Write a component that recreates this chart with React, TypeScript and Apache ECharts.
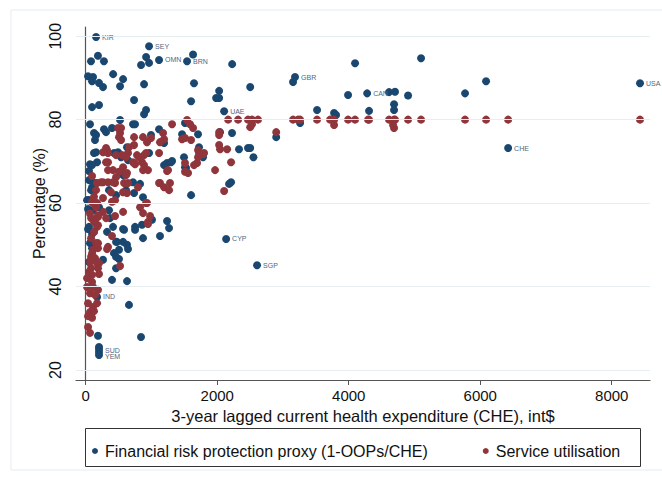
import React, { useEffect, useRef } from "react";
import * as echarts from "echarts";

// ---- data ----
const xTicks = [0, 2000, 4000, 6000, 8000];
const yTicks = [20, 40, 60, 80, 100];

// Financial risk protection proxy (1-OOPs/CHE): [CHE int$, %]
const frpPoints: number[][] = [
  [80, 94.0], [186, 95.3], [277, 94.0], [35, 90.4], [111, 90.2], [96, 89.2], [202, 88.8], [263, 87.8],
  [417, 90.9], [568, 89.7], [522, 88.0], [735, 84.7], [96, 83.0], [202, 83.5], [65, 78.9],
  [842, 93.1], [918, 95.0], [963, 93.6], [887, 88.5], [918, 82.3], [887, 81.3],
  [1632, 95.6], [1647, 88.7], [1602, 84.4], [2227, 93.3], [2029, 86.9], [1983, 85.2], [2029, 85.2], [2501, 87.8],
  [3153, 89.0], [3518, 82.3], [2897, 75.8], [3260, 79.2],
  [4096, 93.5], [5100, 94.7], [6089, 89.2], [3990, 85.9], [4613, 86.6], [4704, 86.7], [4902, 85.8], [5769, 86.3],
  [3777, 81.6], [3807, 81.1], [4309, 82.1], [4689, 83.7], [4689, 82.3],
  [2501, 73.2], [2551, 71.0],
  [126, 76.8], [157, 76.3], [278, 77.7], [309, 77.0], [400, 78.0], [522, 79.9], [719, 78.9], [750, 78.9],
  [993, 76.3], [1115, 77.7], [1191, 74.4], [1465, 76.5], [1510, 79.2], [1708, 76.5], [1723, 73.4], [1784, 71.0],
  [2043, 77.0], [2225, 76.8], [2331, 72.9], [2468, 73.2],
  [141, 75.1], [126, 72.0], [65, 69.3], [50, 67.7], [172, 69.8], [430, 72.0], [537, 71.0], [628, 73.4],
  [826, 64.6], [963, 72.0], [1237, 69.6], [1313, 70.1], [1495, 71.0], [1526, 68.4], [1602, 61.9], [2180, 64.6],
  [2210, 65.0], [50, 65.5], [96, 63.8],
  [20, 60.7], [35, 58.6], [111, 58.3], [50, 54.3], [35, 53.8], [96, 52.6], [65, 50.4], [96, 49.2], [50, 45.9],
  [263, 46.4], [324, 53.1], [354, 58.3], [369, 56.4], [476, 50.7], [430, 48.0], [506, 46.6], [461, 44.4],
  [400, 41.6], [628, 41.3], [568, 53.8], [568, 50.7], [628, 50.0], [643, 49.0], [750, 54.3], [750, 53.6],
  [856, 54.8], [871, 51.6], [1130, 52.1], [1237, 55.7], [1267, 54.0], [658, 35.6], [841, 27.9], [187, 28.2],
  [202, 25.5], [202, 25.0], [1008, 56.0],
  [157, 72.2], [96, 69.1], [81, 65.5], [157, 64.8], [81, 63.1], [50, 60.7], [202, 59.0], [415, 54.3],
  [583, 53.6], [126, 53.1], [81, 50.7], [461, 50.7], [506, 48.8], [461, 47.1], [461, 61.9], [613, 63.1],
  [735, 62.4], [871, 61.4], [643, 70.3], [491, 72.2], [568, 66.7], [719, 65.0], [354, 63.1], [1191, 69.1],
  [1297, 69.8], [1510, 68.6],
];

// labelled countries (financial risk protection proxy)
const frpLabelCodes = ["KIR", "SEY", "OMN", "BRN", "UAE", "GBR", "CAN", "USA", "CHE", "CYP", "SGP", "IND", "SUD", "YEM"];
const frpLabelChe = [157, 963, 1115, 1541, 2105, 3183, 4280, 8430, 6424, 2135, 2606, 172, 202, 202];
const frpLabelPct = [99.8, 97.6, 94.3, 94.0, 82.0, 90.2, 86.3, 88.7, 73.2, 51.4, 45.1, 37.5, 24.3, 23.6];

// Service utilisation: [CHE int$, %]
const suPoints: number[][] = [
  [2166, 80], [2317, 80], [2468, 80], [2529, 80], [2620, 80], [3153, 80], [3229, 80], [3260, 80], [3518, 80],
  [3716, 80], [3777, 80], [3990, 80], [4096, 80], [4294, 80], [4309, 80], [4613, 80], [4689, 80], [4704, 80],
  [4902, 80], [5100, 80], [5769, 80], [6089, 80], [6424, 80], [8430, 80],
  [2501, 78.2], [3777, 78.7], [4689, 78.0], [4674, 78.7], [2897, 77.0], [2529, 78.9], [2029, 77.0], [2029, 76.3],
  [2043, 72.9], [2150, 72.9], [2210, 69.8], [1967, 67.9], [2105, 62.9], [2029, 73.9],
  [1313, 78.9], [1541, 79.9], [1587, 78.9], [1632, 78.0], [537, 78.0], [522, 76.8], [537, 75.1], [735, 75.8],
  [871, 75.8], [932, 74.6], [993, 75.6], [1176, 76.8], [1191, 75.3], [1130, 74.6], [1465, 75.3], [1510, 75.6],
  [1602, 75.1], [1708, 72.7], [1784, 71.7], [1708, 71.0], [324, 72.7], [339, 72.0], [309, 69.8], [415, 67.9],
  [552, 71.5], [658, 73.4], [643, 72.0], [780, 71.5], [887, 71.5], [856, 69.8], [719, 69.8], [871, 67.9],
  [947, 67.9], [568, 68.6], [628, 67.2], [461, 66.2], [750, 69.3], [1115, 72.0], [1237, 67.7], [1282, 64.8],
  [1130, 64.8], [1510, 69.6], [1510, 67.5], [1693, 69.6], [1800, 72.0], [263, 65.0], [172, 64.8], [339, 65.0],
  [446, 64.8], [583, 64.8], [628, 62.4],
  [491, 78.0], [506, 75.8], [309, 73.2], [735, 73.9],
  [263, 72.2], [339, 69.8], [461, 71.5], [613, 71.0], [811, 71.0], [918, 72.0], [735, 69.6], [887, 69.1],
  [339, 67.9], [506, 67.5], [613, 66.7], [415, 65.0], [643, 64.8], [233, 65.0], [157, 63.1], [384, 62.6],
  [568, 62.6], [795, 63.8], [263, 61.2], [111, 60.0], [157, 59.0], [263, 57.9], [187, 56.7], [126, 55.5],
  [187, 54.7], [309, 56.4], [918, 60.0], [947, 55.5], [871, 57.6], [81, 51.6], [157, 50.4], [111, 48.8],
  [187, 49.2], [81, 47.1], [202, 45.6], [339, 49.5], [81, 44.4],
  [96, 60.3], [172, 60.0], [400, 60.3], [446, 60.7], [826, 59.0], [932, 60.0], [978, 56.9], [947, 55.0],
  [446, 56.9], [568, 57.9], [81, 56.4], [141, 55.9], [187, 57.1], [172, 54.3], [126, 53.1], [187, 50.4],
  [324, 49.0], [400, 52.1], [522, 44.9], [96, 48.0], [141, 46.8], [65, 45.9], [172, 45.6], [187, 44.4],
  [50, 43.5], [96, 42.8], [202, 43.0], [20, 42.0], [96, 41.1], [20, 39.9], [111, 39.9], [187, 39.2],
  [65, 38.4], [141, 38.0], [35, 36.0], [111, 35.1], [172, 36.0], [65, 33.9], [126, 34.1], [35, 32.9],
  [96, 32.5], [35, 30.3], [65, 28.9],
  [1723, 72.0], [1556, 67.2], [1647, 69.1], [1252, 67.9], [1115, 64.8], [1191, 63.8], [1267, 63.1],
  [96, 66.5], [126, 61.5], [65, 57.5],
];

const FRP_NAME = "Financial risk protection proxy (1-OOPs/CHE)";
const SU_NAME = "Service utilisation";
const NAVY = "#1a476f";
const MAROON = "#90353b";
const FONT = "'Liberation Sans', Arial, Helvetica, sans-serif";

export default function App() {
  const ref = useRef<HTMLDivElement>(null);

  useEffect(() => {
    document.body.style.margin = "0";
    if (!ref.current) return;
    const chart = echarts.init(ref.current, null, { renderer: "svg" });

    const frpData: any[] = frpPoints.map((p) => ({ value: p }));
    frpLabelCodes.forEach((code, i) => {
      const dy = code === "SUD" ? -2 : code === "YEM" ? 2 : 0;
      frpData.push({
        value: [frpLabelChe[i], frpLabelPct[i]],
        label: {
          show: true,
          formatter: code,
          position: "right",
          distance: 2,
          offset: [0, dy],
          fontSize: 7,
          color: "#4d6787",
          fontFamily: FONT,
        },
      });
    });

    chart.setOption({
      animation: false,
      backgroundColor: "#ffffff",
      textStyle: { fontFamily: FONT },
      grid: { left: 76, right: 12, top: 27, bottom: 101, containLabel: false },
      xAxis: {
        type: "value",
        min: -148,
        max: 8582,
        name: "3-year lagged current health expenditure (CHE), int$",
        nameLocation: "middle",
        nameGap: 27,
        nameMoveOverlap: false,
        nameTextStyle: { fontSize: 16.5, color: "#111", fontFamily: FONT },
        axisLine: { show: true, lineStyle: { color: "#555", width: 1.2 } },
        axisTick: { show: true, length: 5, customValues: xTicks, lineStyle: { color: "#555" } },
        axisLabel: {
          customValues: xTicks,
          formatter: (v: number) => String(v),
          fontSize: 15,
          color: "#111",
          margin: 8,
          fontFamily: FONT,
        },
        splitLine: { show: false },
      },
      yAxis: {
        type: "value",
        min: 17.6,
        max: 102.2,
        name: "Percentage (%)",
        nameLocation: "middle",
        nameGap: 29,
        nameMoveOverlap: false,
        nameTextStyle: { fontSize: 16, color: "#111", fontFamily: FONT },
        axisLine: { show: true, lineStyle: { color: "#555", width: 1.2 } },
        axisTick: { show: true, length: 5, customValues: yTicks, lineStyle: { color: "#555" } },
        axisLabel: {
          customValues: yTicks,
          formatter: (v: number) => String(v),
          rotate: 90,
          fontSize: 16,
          color: "#111",
          margin: 13,
          fontFamily: FONT,
        },
        splitLine: { show: false },
      },
      legend: {
        data: [
          { name: FRP_NAME, icon: "circle" },
          { name: SU_NAME, icon: "circle" },
        ],
        left: 87,
        top: 438,
        itemWidth: 10,
        itemHeight: 6,
        itemGap: 55,
        textStyle: { fontSize: 16, color: "#111", fontFamily: FONT },
        selectedMode: false,
      },
      graphic: [
        {
          type: "rect",
          z: -10,
          silent: true,
          shape: { x: 11, y: 10, width: 660, height: 460 },
          style: { fill: "none", stroke: "#e4edf3", lineWidth: 1 },
        },
        {
          type: "rect",
          z: -5,
          silent: true,
          shape: { x: 85.5, y: 428.5, width: 555, height: 38 },
          style: { fill: "#fff", stroke: "#333", lineWidth: 1 },
        },
      ],
      series: [
        {
          type: "scatter",
          name: "grid",
          data: [],
          z: 1,
          silent: true,
          markLine: {
            silent: true,
            symbol: "none",
            animation: false,
            label: { show: false },
            lineStyle: { color: "#e6eef2", width: 1, type: "solid" },
            data: yTicks.map((v) => ({ yAxis: v })),
          },
        },
        {
          type: "scatter",
          name: FRP_NAME,
          data: frpData,
          symbol: "circle",
          symbolSize: 8,
          itemStyle: { color: NAVY, opacity: 1 },
          z: 3,
        },
        {
          type: "scatter",
          name: SU_NAME,
          data: suPoints,
          symbol: "circle",
          symbolSize: 8,
          itemStyle: { color: MAROON, opacity: 1 },
          z: 4,
        },
      ],
    });

    return () => chart.dispose();
  }, []);

  return <div ref={ref} style={{ width: 662, height: 481 }} />;
}
